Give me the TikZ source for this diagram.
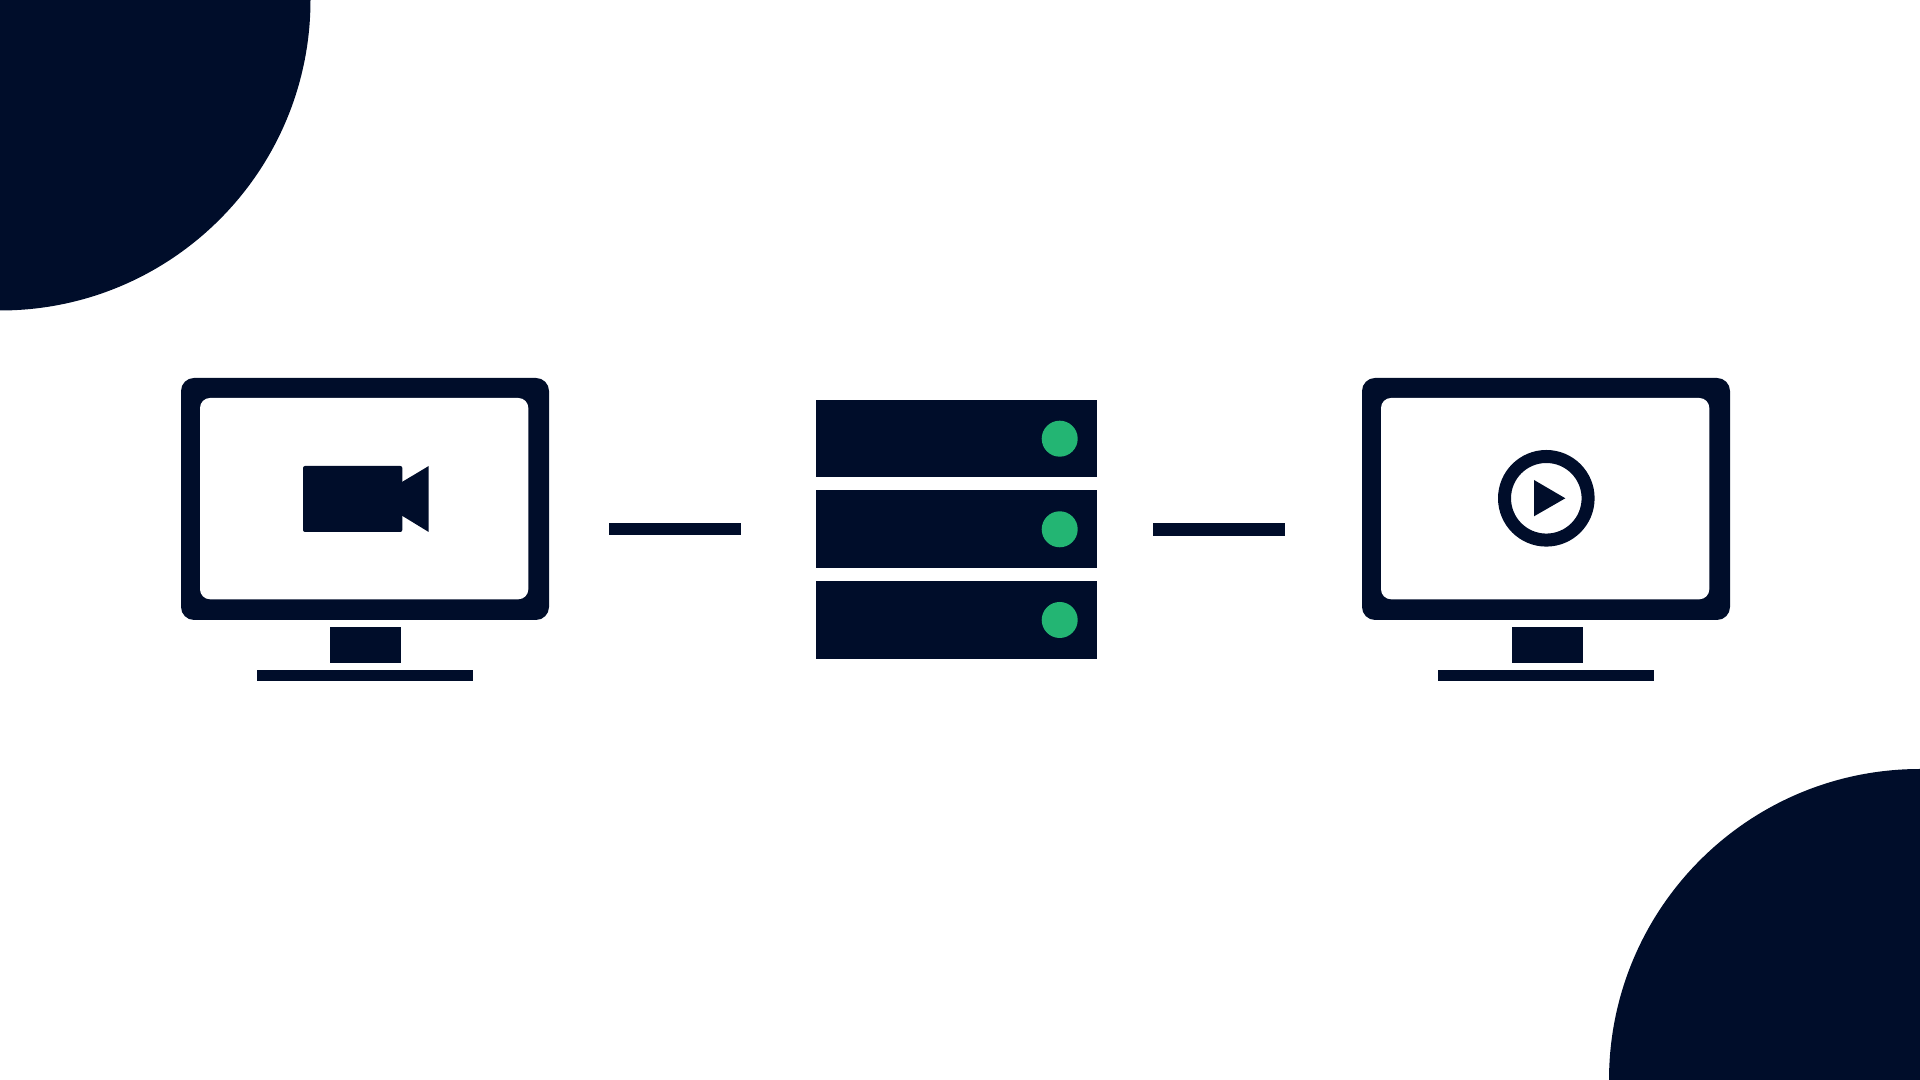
\documentclass[tikz,border=0pt]{standalone}
\usepackage{tikz}

\definecolor{navy}{HTML}{000D2A}
\definecolor{ledgreen}{HTML}{23B573}

\begin{document}
\begin{tikzpicture}[scale=1.0]
  \useasboundingbox (0,0) rectangle (19.2,10.8);

  \fill[navy] (0,10.8) -- (3.105,10.8) arc (0:-90:3.105) -- cycle;
  \fill[navy] (19.2,0) -- (16.09,0) arc (180:90:3.11) -- cycle;

  \foreach \shiftx/\standx in {0/0, 11.81/0.012} {
    \begin{scope}[xshift=\shiftx cm]
      \fill[navy, rounded corners=0.13cm] (1.81,7.02) rectangle (5.49,4.60);
      \fill[white, rounded corners=0.10cm] (2.00,6.82) rectangle (5.283,4.807);
      \fill[navy] (3.30+\standx,4.533) rectangle (4.01+\standx,4.173);
      \fill[navy] (2.565,4.10) rectangle (4.73,3.993);
    \end{scope}
  }

  \fill[navy, rounded corners=0.02cm] (3.03,6.14) rectangle (4.023,5.48);
  \fill[navy] (4.02,5.98) -- (4.287,6.14) -- (4.287,5.48) -- (4.02,5.643) -- cycle;

  \draw[navy, line width=0.13cm] (15.463,5.817) circle (0.418);
  \fill[navy] (15.34,6.00) -- (15.653,5.817) -- (15.34,5.637) -- cycle;

  \foreach \top/\bottom/\ledy in {6.803/6.027/6.413, 5.897/5.117/5.507, 4.987/4.213/4.60} {
    \fill[navy] (8.16,\top) rectangle (10.967,\bottom);
    \fill[ledgreen] (10.597,\ledy) circle (0.18);
  }

  \fill[navy] (6.088,5.57) rectangle (7.41,5.447);
  \fill[navy] (11.529,5.57) rectangle (12.85,5.443);
\end{tikzpicture}
\end{document}
